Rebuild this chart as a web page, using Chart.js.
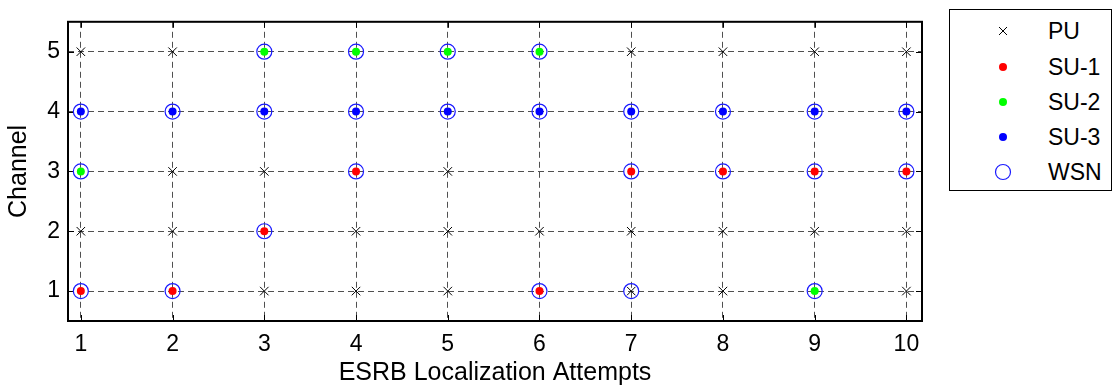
<!DOCTYPE html>
<html>
<head>
<meta charset="utf-8">
<script src="https://cdn.jsdelivr.net/npm/chart.js@4.4.1/dist/chart.umd.min.js"></script>
<style>
  body { margin: 0; background: #fff; }
  #wrap { position: relative; width: 1115px; height: 390px; }
  #legend {
    position: absolute; left: 949px; top: 9px; width: 163px; height: 182px;
    border: 1px solid #000; box-sizing: border-box; background: #fff;
    font-family: 'Liberation Sans', Arial, sans-serif; font-size: 23px; color: #000;
  }
  .item { position: absolute; left: 0; width: 100%; height: 30px; line-height: 30px; }
  .item svg { position: absolute; left: 43px; top: 5px; }
  .item span { position: absolute; left: 98px; }
</style>
</head>
<body>
<div id="wrap">
  <canvas id="chart" width="1115" height="390"></canvas>
  <div id="legend"></div>
</div>
<script>
// axis ticks
const attempts = [1, 2, 3, 4, 5, 6, 7, 8, 9, 10];
const channels = [1, 2, 3, 4, 5];

// PU (primary users)
const puX = [1, 1, 2, 2, 2, 3, 3, 4, 4, 5, 5, 5, 6, 7, 7, 7, 8, 8, 8, 9, 9, 10, 10, 10];
const puY = [2, 5, 2, 3, 5, 1, 3, 1, 2, 1, 2, 3, 2, 1, 2, 5, 1, 2, 5, 2, 5, 1, 2, 5];

// secondary users
const su1X = [1, 2, 3, 4, 6, 7, 8, 9, 10];
const su1Y = [1, 1, 2, 3, 1, 3, 3, 3, 3];
const su2X = [1, 3, 4, 5, 6, 9];
const su2Y = [3, 5, 5, 5, 5, 1];
const su3X = [1, 2, 3, 4, 5, 6, 7, 8, 9, 10];
const su3Y = [4, 4, 4, 4, 4, 4, 4, 4, 4, 4];

// WSN estimates
const wsnX = [1, 1, 1, 2, 2, 3, 3, 3, 4, 4, 4, 5, 5, 6, 6, 6, 7, 7, 7, 8, 8, 9, 9, 9, 10, 10];
const wsnY = [1, 3, 4, 1, 4, 2, 4, 5, 3, 4, 5, 4, 5, 1, 4, 5, 1, 3, 4, 3, 4, 1, 3, 4, 3, 4];

function pts(xs, ys) {
    return xs.map((x, i) => ({ x: x, y: ys[i] }));
}

const series = [
    { label: 'PU', xs: puX, ys: puY, style: 'crossRot', radius: 6, fill: '#000', stroke: '#000', width: 1, order: 5 },
    { label: 'SU-1', xs: su1X, ys: su1Y, style: 'circle', radius: 4, fill: '#ff0000', stroke: '#ff0000', width: 0, order: 4 },
    { label: 'SU-2', xs: su2X, ys: su2Y, style: 'circle', radius: 4, fill: '#00ff00', stroke: '#00ff00', width: 0, order: 3 },
    { label: 'SU-3', xs: su3X, ys: su3Y, style: 'circle', radius: 4, fill: '#0000ff', stroke: '#0000ff', width: 0, order: 2 },
    { label: 'WSN', xs: wsnX, ys: wsnY, style: 'circle', radius: 7.5, fill: 'rgba(0,0,0,0)', stroke: '#1a1aff', width: 1.2, order: 1 }
];

// frame box and inward tick marks like the original
const framePlugin = {
    id: 'frame',
    beforeDatasetsDraw(chart) {
        const { ctx, chartArea: a, scales } = chart;
        ctx.save();
        ctx.strokeStyle = '#000';
        ctx.lineWidth = 1;
        ctx.beginPath();
        attempts.forEach(v => {
            const px = Math.round(scales.x.getPixelForValue(v)) + 0.5;
            ctx.moveTo(px, a.bottom); ctx.lineTo(px, a.bottom - 6);
            ctx.moveTo(px, a.top); ctx.lineTo(px, a.top + 6);
        });
        channels.forEach(v => {
            const py = Math.round(scales.y.getPixelForValue(v)) + 0.5;
            ctx.moveTo(a.left, py); ctx.lineTo(a.left + 6, py);
            ctx.moveTo(a.right, py); ctx.lineTo(a.right - 6, py);
        });
        ctx.stroke();
        ctx.lineWidth = 2;
        ctx.strokeRect(a.left, a.top, a.right - a.left, a.bottom - a.top);
        ctx.restore();
    }
};

Chart.defaults.font.family = "'Liberation Sans', Arial, sans-serif";
Chart.defaults.font.size = 23;
Chart.defaults.color = '#000';

new Chart(document.getElementById('chart'), {
    type: 'scatter',
    data: {
        datasets: series.map(s => ({
            label: s.label,
            data: pts(s.xs, s.ys),
            pointStyle: s.style,
            pointRadius: s.radius,
            pointHoverRadius: s.radius,
            pointBackgroundColor: s.fill,
            pointBorderColor: s.stroke,
            pointBorderWidth: s.width,
            order: s.order
        }))
    },
    options: {
        responsive: false,
        animation: false,
        layout: { padding: { left: 0, top: 9, right: 193, bottom: 0 } },
        plugins: { legend: { display: false }, tooltip: { enabled: false } },
        scales: {
            x: {
                type: 'linear',
                min: 0.86,
                max: 10.17,
                afterBuildTicks: s => { s.ticks = attempts.map(v => ({ value: v })); },
                afterFit: s => { s.height = 69; },
                ticks: { padding: 10, callback: v => String(v) },
                grid: { color: '#505050', lineWidth: 1, drawTicks: false },
                border: { display: false, dash: [6, 4] },
                title: { display: true, text: 'ESRB Localization Attempts', font: { size: 25 }, padding: { top: 0, bottom: 2 } }
            },
            y: {
                type: 'linear',
                min: 0.5,
                max: 5.5,
                afterBuildTicks: s => { s.ticks = channels.map(v => ({ value: v })); },
                afterFit: s => { s.width = 68; },
                ticks: { padding: 8, callback: v => String(v) },
                grid: { color: '#505050', lineWidth: 1, drawTicks: false },
                border: { display: false, dash: [6, 4] },
                title: { display: true, text: 'Channel', font: { size: 25 }, padding: { top: 4, bottom: 0 } }
            }
        }
    },
    plugins: [framePlugin]
});

// legend box
const legendCenters = [21, 57, 92, 127, 162];
const legendSvg = {
    'PU': '<line x1="6" y1="6" x2="14" y2="14" stroke="#000" stroke-width="1"/><line x1="14" y1="6" x2="6" y2="14" stroke="#000" stroke-width="1"/>',
    'SU-1': '<circle cx="10" cy="10" r="4" fill="#ff0000"/>',
    'SU-2': '<circle cx="10" cy="10" r="4" fill="#00ff00"/>',
    'SU-3': '<circle cx="10" cy="10" r="4" fill="#0000ff"/>',
    'WSN': '<circle cx="10" cy="10" r="7.5" fill="none" stroke="#1a1aff" stroke-width="1.2"/>'
};
const legend = document.getElementById('legend');
legend.innerHTML = series.map((s, i) => `
    <div class="item" style="top:${legendCenters[i] - 15}px">
        <svg width="20" height="20">${legendSvg[s.label]}</svg>
        <span>${s.label}</span>
    </div>
`).join('');
</script>
</body>
</html>
